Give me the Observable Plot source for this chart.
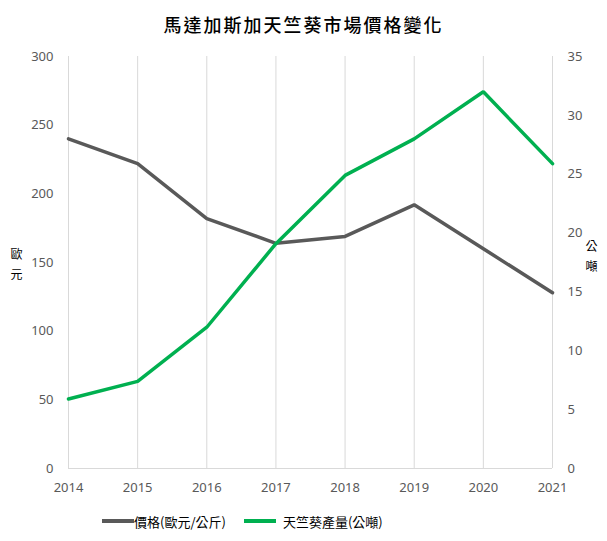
<!DOCTYPE html>
<html>
<head>
<meta charset="utf-8">
<script src="https://cdn.jsdelivr.net/npm/d3@7"></script>
<script src="https://cdn.jsdelivr.net/npm/@observablehq/plot@0.6"></script>
<style>
  body { margin: 0; background: #fff; font-family: "Noto Sans CJK TC", "Noto Sans", sans-serif; }
  #title { height: 48px; line-height: 48px; text-align: center; font-size: 18px; font-weight: 500; color: #000; letter-spacing: 2px; }
  #legend { height: 26px; display: flex; justify-content: flex-start; align-items: center; font-size: 13px; color: #000; padding-left: 102px; }
  .sw { display: inline-block; width: 32px; height: 4px; vertical-align: middle; }
  .item { display: flex; align-items: center; margin-right: 18px; }
</style>
</head>
<body>
<div id="title">馬達加斯加天竺葵市場價格變化</div>
<div id="chart"></div>
<div id="legend"></div>
<script>
const years = [2014, 2015, 2016, 2017, 2018, 2019, 2020, 2021];
const price = [240, 222, 182, 164, 169, 192, 160, 128];
const production = [5.9, 7.4, 12, 19.1, 24.9, 28, 32, 25.9];
const seriesNames = ["價格(歐元/公斤)", "天竺葵產量(公噸)"];
const colors = ["#595959", "#00b050"];
const leftTicks = [0, 50, 100, 150, 200, 250, 300];
const rightTicks = [0, 5, 10, 15, 20, 25, 30, 35];
const leftMax = 300, rightMax = 35;
const toLeft = v => v * leftMax / rightMax;

const priceData = years.map((y, i) => ({year: y, value: price[i]}));
const prodData = years.map((y, i) => ({year: y, value: toLeft(production[i])}));

const chart = Plot.plot({
  width: 607,
  height: 460,
  marginTop: 8,
  marginBottom: 40,
  marginLeft: 68,
  marginRight: 55,
  style: {fontFamily: "'Noto Sans', 'Noto Sans CJK TC', sans-serif", fontSize: "13px", color: "#595959", background: "#fff"},
  x: {type: "linear", domain: [2014, 2021]},
  y: {domain: [0, leftMax]},
  marks: [
    Plot.ruleX(years, {stroke: "#d9d9d9", strokeWidth: 1}),
    Plot.ruleY([0], {stroke: "#d9d9d9", strokeWidth: 1}),
    Plot.axisX({ticks: years, tickFormat: d => String(d), tickSize: 0, tickPadding: 14, label: null, fontSize: 13, fill: "#595959"}),
    Plot.axisY({ticks: leftTicks, tickSize: 0, tickPadding: 15, label: null, anchor: "left", fontSize: 13, fill: "#595959"}),
    Plot.axisY({ticks: rightTicks.map(toLeft), tickFormat: d => String(Math.round(d * rightMax / leftMax)), tickSize: 0, tickPadding: 15, label: null, anchor: "right", fontSize: 13, fill: "#595959"}),
    Plot.line(priceData, {x: "year", y: "value", stroke: colors[0], strokeWidth: 3.5, strokeLinejoin: "miter"}),
    Plot.line(prodData, {x: "year", y: "value", stroke: colors[1], strokeWidth: 3.5, strokeLinejoin: "miter"}),
    Plot.text(["歐\n元"], {frameAnchor: "left", dx: -58, dy: 0, lineHeight: 1.7, fontSize: 12, fill: "#000", fontFamily: "'Noto Sans CJK TC', sans-serif"}),
    Plot.text(["公\n噸"], {frameAnchor: "right", dx: 45, dy: -8, lineHeight: 1.7, fontSize: 12, fill: "#000", fontFamily: "'Noto Sans CJK TC', sans-serif"})
  ]
});
document.getElementById("chart").appendChild(chart);

const legend = document.getElementById("legend");
seriesNames.forEach((name, i) => {
  const item = document.createElement("span");
  item.className = "item";
  const sw = document.createElement("span");
  sw.className = "sw";
  sw.style.background = colors[i];
  sw.style.marginRight = i === 0 ? "0px" : "7px";
  item.appendChild(sw);
  item.appendChild(document.createTextNode(name));
  legend.appendChild(item);
});
</script>
</body>
</html>
